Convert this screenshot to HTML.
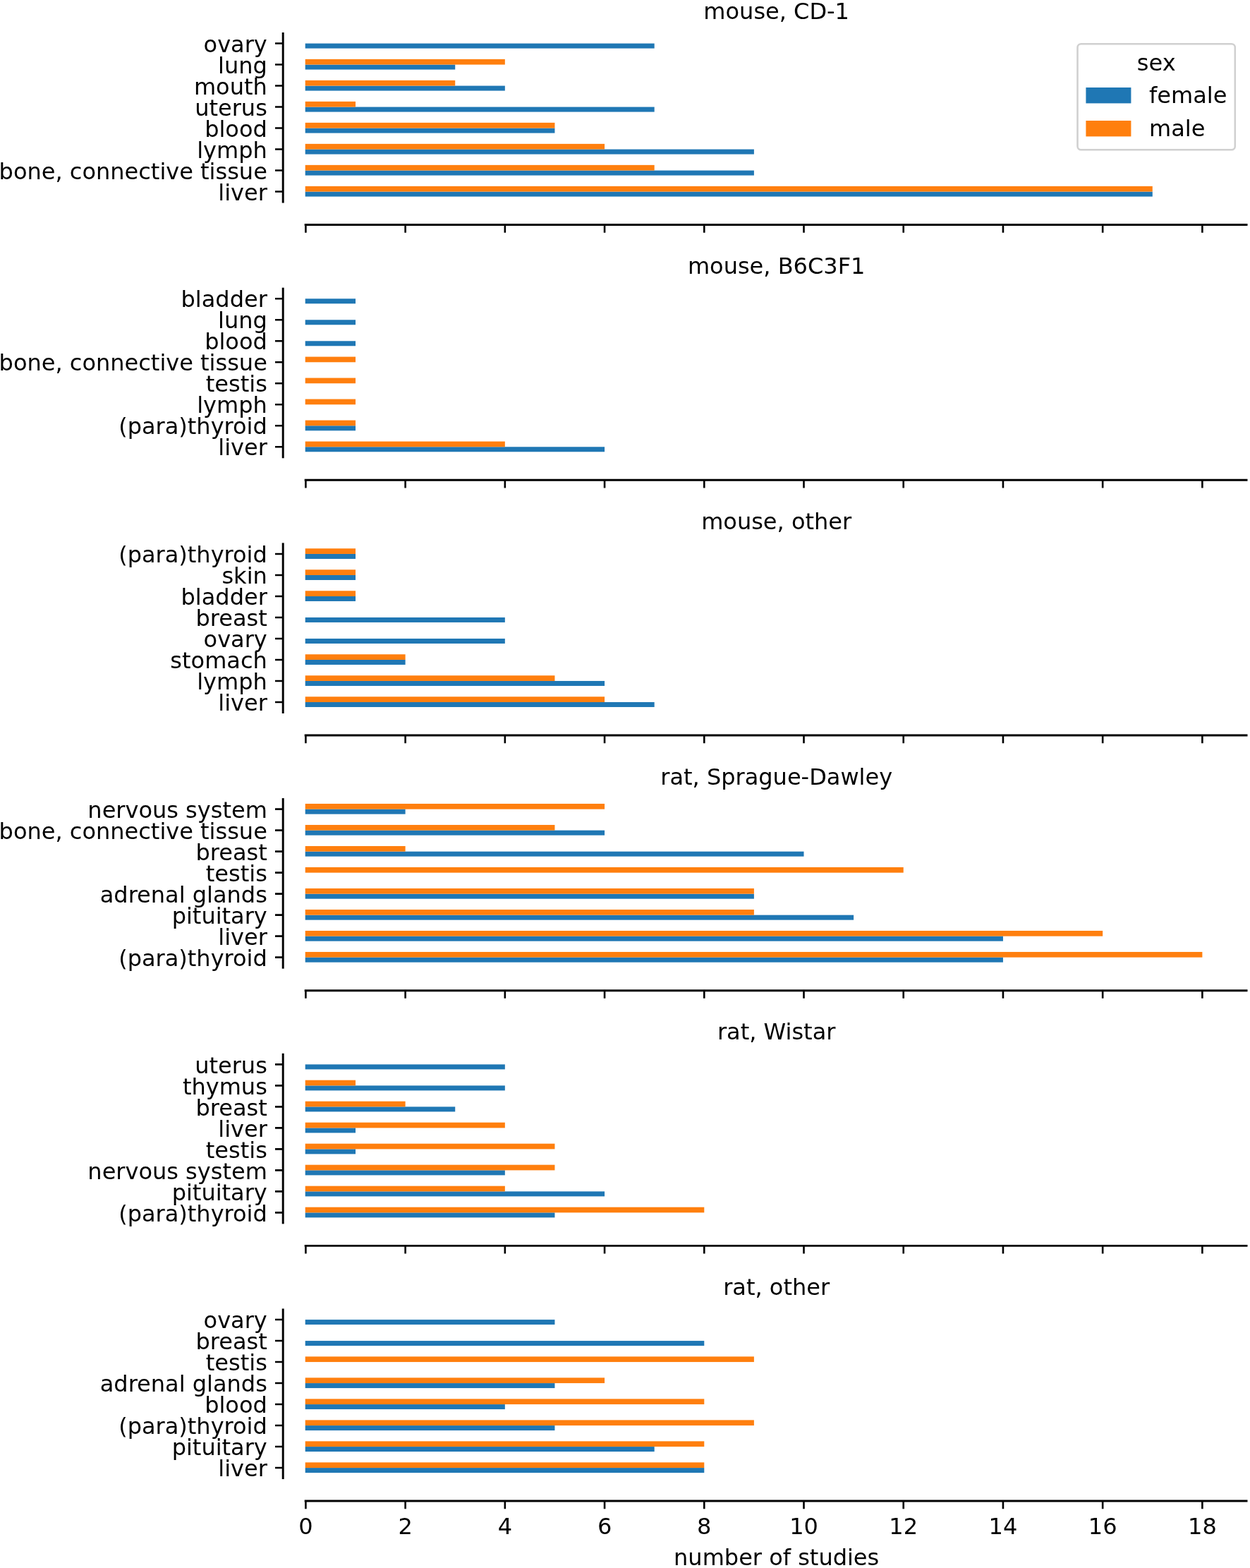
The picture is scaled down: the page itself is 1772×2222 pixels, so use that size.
<!DOCTYPE html>
<html><head><meta charset="utf-8"><title>number of studies</title>
<style>
html,body{margin:0;padding:0;background:#fff;}
svg{display:block;}
text{font-family:"DejaVu Sans","Liberation Sans",sans-serif;font-size:32px;fill:#000;}
.r{text-anchor:end}.c{text-anchor:middle}
</style></head><body>
<svg width="1772" height="2222" viewBox="0 0 1772 2222">
<rect x="0" y="0" width="1772" height="2222" fill="#fff"/>
<g>
<rect x="432.7" y="271.57" width="1201.07" height="7" fill="#1f77b4"/><rect x="432.7" y="263.87" width="1201.07" height="7.7" fill="#ff7f0e"/><rect x="432.7" y="241.57" width="636.19" height="7" fill="#1f77b4"/><rect x="432.7" y="233.87" width="494.97" height="7.7" fill="#ff7f0e"/><rect x="432.7" y="211.57" width="636.19" height="7" fill="#1f77b4"/><rect x="432.7" y="203.87" width="424.36" height="7.7" fill="#ff7f0e"/><rect x="432.7" y="181.57" width="353.75" height="7" fill="#1f77b4"/><rect x="432.7" y="173.87" width="353.75" height="7.7" fill="#ff7f0e"/><rect x="432.7" y="151.57" width="494.97" height="7" fill="#1f77b4"/><rect x="432.7" y="143.87" width="71.31" height="7.7" fill="#ff7f0e"/><rect x="432.7" y="121.57" width="283.14" height="7" fill="#1f77b4"/><rect x="432.7" y="113.87" width="212.53" height="7.7" fill="#ff7f0e"/><rect x="432.7" y="91.57" width="212.53" height="7" fill="#1f77b4"/><rect x="432.7" y="83.87" width="283.14" height="7.7" fill="#ff7f0e"/><rect x="432.7" y="61.57" width="494.97" height="7" fill="#1f77b4"/>
<path d="M401.2 45.97V287.57" stroke="#000" stroke-width="2.95" fill="none"/>
<path d="M431.7 318.57H1768.5" stroke="#000" stroke-width="2.95" fill="none"/>
<path d="M401.2 271.57H390M401.2 241.57H390M401.2 211.57H390M401.2 181.57H390M401.2 151.57H390M401.2 121.57H390M401.2 91.57H390M401.2 61.57H390" stroke="#000" stroke-width="2.6" fill="none"/>
<path d="M433.4 318.57V329.77M574.62 318.57V329.77M715.84 318.57V329.77M857.06 318.57V329.77M998.28 318.57V329.77M1139.5 318.57V329.77M1280.72 318.57V329.77M1421.94 318.57V329.77M1563.16 318.57V329.77M1704.38 318.57V329.77" stroke="#000" stroke-width="2.6" fill="none"/>
<text class="r" x="378.8" y="283.77">liver</text><text class="r" x="378.8" y="253.77">bone, connective tissue</text><text class="r" x="378.8" y="223.77">lymph</text><text class="r" x="378.8" y="193.77">blood</text><text class="r" x="378.8" y="163.77">uterus</text><text class="r" x="378.8" y="133.77">mouth</text><text class="r" x="378.8" y="103.77">lung</text><text class="r" x="378.8" y="73.77">ovary</text>
<text class="c" x="1100.66" y="26.57">mouse, CD-1</text>
</g>
<g>
<rect x="432.7" y="633.27" width="424.36" height="7" fill="#1f77b4"/><rect x="432.7" y="625.57" width="283.14" height="7.7" fill="#ff7f0e"/><rect x="432.7" y="603.27" width="71.31" height="7" fill="#1f77b4"/><rect x="432.7" y="595.57" width="71.31" height="7.7" fill="#ff7f0e"/><rect x="432.7" y="565.57" width="71.31" height="7.7" fill="#ff7f0e"/><rect x="432.7" y="535.57" width="71.31" height="7.7" fill="#ff7f0e"/><rect x="432.7" y="505.57" width="71.31" height="7.7" fill="#ff7f0e"/><rect x="432.7" y="483.27" width="71.31" height="7" fill="#1f77b4"/><rect x="432.7" y="453.27" width="71.31" height="7" fill="#1f77b4"/><rect x="432.7" y="423.27" width="71.31" height="7" fill="#1f77b4"/>
<path d="M401.2 407.67V649.27" stroke="#000" stroke-width="2.95" fill="none"/>
<path d="M431.7 680.27H1768.5" stroke="#000" stroke-width="2.95" fill="none"/>
<path d="M401.2 633.27H390M401.2 603.27H390M401.2 573.27H390M401.2 543.27H390M401.2 513.27H390M401.2 483.27H390M401.2 453.27H390M401.2 423.27H390" stroke="#000" stroke-width="2.6" fill="none"/>
<path d="M433.4 680.27V691.47M574.62 680.27V691.47M715.84 680.27V691.47M857.06 680.27V691.47M998.28 680.27V691.47M1139.5 680.27V691.47M1280.72 680.27V691.47M1421.94 680.27V691.47M1563.16 680.27V691.47M1704.38 680.27V691.47" stroke="#000" stroke-width="2.6" fill="none"/>
<text class="r" x="378.8" y="645.47">liver</text><text class="r" x="378.8" y="615.47">(para)thyroid</text><text class="r" x="378.8" y="585.47">lymph</text><text class="r" x="378.8" y="555.47">testis</text><text class="r" x="378.8" y="525.47">bone, connective tissue</text><text class="r" x="378.8" y="495.47">blood</text><text class="r" x="378.8" y="465.47">lung</text><text class="r" x="378.8" y="435.47">bladder</text>
<text class="c" x="1100.66" y="388.27">mouse, B6C3F1</text>
</g>
<g>
<rect x="432.7" y="994.97" width="494.97" height="7" fill="#1f77b4"/><rect x="432.7" y="987.27" width="424.36" height="7.7" fill="#ff7f0e"/><rect x="432.7" y="964.97" width="424.36" height="7" fill="#1f77b4"/><rect x="432.7" y="957.27" width="353.75" height="7.7" fill="#ff7f0e"/><rect x="432.7" y="934.97" width="141.92" height="7" fill="#1f77b4"/><rect x="432.7" y="927.27" width="141.92" height="7.7" fill="#ff7f0e"/><rect x="432.7" y="904.97" width="283.14" height="7" fill="#1f77b4"/><rect x="432.7" y="874.97" width="283.14" height="7" fill="#1f77b4"/><rect x="432.7" y="844.97" width="71.31" height="7" fill="#1f77b4"/><rect x="432.7" y="837.27" width="71.31" height="7.7" fill="#ff7f0e"/><rect x="432.7" y="814.97" width="71.31" height="7" fill="#1f77b4"/><rect x="432.7" y="807.27" width="71.31" height="7.7" fill="#ff7f0e"/><rect x="432.7" y="784.97" width="71.31" height="7" fill="#1f77b4"/><rect x="432.7" y="777.27" width="71.31" height="7.7" fill="#ff7f0e"/>
<path d="M401.2 769.37V1010.97" stroke="#000" stroke-width="2.95" fill="none"/>
<path d="M431.7 1041.97H1768.5" stroke="#000" stroke-width="2.95" fill="none"/>
<path d="M401.2 994.97H390M401.2 964.97H390M401.2 934.97H390M401.2 904.97H390M401.2 874.97H390M401.2 844.97H390M401.2 814.97H390M401.2 784.97H390" stroke="#000" stroke-width="2.6" fill="none"/>
<path d="M433.4 1041.97V1053.17M574.62 1041.97V1053.17M715.84 1041.97V1053.17M857.06 1041.97V1053.17M998.28 1041.97V1053.17M1139.5 1041.97V1053.17M1280.72 1041.97V1053.17M1421.94 1041.97V1053.17M1563.16 1041.97V1053.17M1704.38 1041.97V1053.17" stroke="#000" stroke-width="2.6" fill="none"/>
<text class="r" x="378.8" y="1007.17">liver</text><text class="r" x="378.8" y="977.17">lymph</text><text class="r" x="378.8" y="947.17">stomach</text><text class="r" x="378.8" y="917.17">ovary</text><text class="r" x="378.8" y="887.17">breast</text><text class="r" x="378.8" y="857.17">bladder</text><text class="r" x="378.8" y="827.17">skin</text><text class="r" x="378.8" y="797.17">(para)thyroid</text>
<text class="c" x="1100.66" y="749.97">mouse, other</text>
</g>
<g>
<rect x="432.7" y="1356.67" width="989.24" height="7" fill="#1f77b4"/><rect x="432.7" y="1348.97" width="1271.68" height="7.7" fill="#ff7f0e"/><rect x="432.7" y="1326.67" width="989.24" height="7" fill="#1f77b4"/><rect x="432.7" y="1318.97" width="1130.46" height="7.7" fill="#ff7f0e"/><rect x="432.7" y="1296.67" width="777.41" height="7" fill="#1f77b4"/><rect x="432.7" y="1288.97" width="636.19" height="7.7" fill="#ff7f0e"/><rect x="432.7" y="1266.67" width="636.19" height="7" fill="#1f77b4"/><rect x="432.7" y="1258.97" width="636.19" height="7.7" fill="#ff7f0e"/><rect x="432.7" y="1228.97" width="848.02" height="7.7" fill="#ff7f0e"/><rect x="432.7" y="1206.67" width="706.8" height="7" fill="#1f77b4"/><rect x="432.7" y="1198.97" width="141.92" height="7.7" fill="#ff7f0e"/><rect x="432.7" y="1176.67" width="424.36" height="7" fill="#1f77b4"/><rect x="432.7" y="1168.97" width="353.75" height="7.7" fill="#ff7f0e"/><rect x="432.7" y="1146.67" width="141.92" height="7" fill="#1f77b4"/><rect x="432.7" y="1138.97" width="424.36" height="7.7" fill="#ff7f0e"/>
<path d="M401.2 1131.07V1372.67" stroke="#000" stroke-width="2.95" fill="none"/>
<path d="M431.7 1403.67H1768.5" stroke="#000" stroke-width="2.95" fill="none"/>
<path d="M401.2 1356.67H390M401.2 1326.67H390M401.2 1296.67H390M401.2 1266.67H390M401.2 1236.67H390M401.2 1206.67H390M401.2 1176.67H390M401.2 1146.67H390" stroke="#000" stroke-width="2.6" fill="none"/>
<path d="M433.4 1403.67V1414.87M574.62 1403.67V1414.87M715.84 1403.67V1414.87M857.06 1403.67V1414.87M998.28 1403.67V1414.87M1139.5 1403.67V1414.87M1280.72 1403.67V1414.87M1421.94 1403.67V1414.87M1563.16 1403.67V1414.87M1704.38 1403.67V1414.87" stroke="#000" stroke-width="2.6" fill="none"/>
<text class="r" x="378.8" y="1368.87">(para)thyroid</text><text class="r" x="378.8" y="1338.87">liver</text><text class="r" x="378.8" y="1308.87">pituitary</text><text class="r" x="378.8" y="1278.87">adrenal glands</text><text class="r" x="378.8" y="1248.87">testis</text><text class="r" x="378.8" y="1218.87">breast</text><text class="r" x="378.8" y="1188.87">bone, connective tissue</text><text class="r" x="378.8" y="1158.87">nervous system</text>
<text class="c" x="1100.66" y="1111.67">rat, Sprague-Dawley</text>
</g>
<g>
<rect x="432.7" y="1718.37" width="353.75" height="7" fill="#1f77b4"/><rect x="432.7" y="1710.67" width="565.58" height="7.7" fill="#ff7f0e"/><rect x="432.7" y="1688.37" width="424.36" height="7" fill="#1f77b4"/><rect x="432.7" y="1680.67" width="283.14" height="7.7" fill="#ff7f0e"/><rect x="432.7" y="1658.37" width="283.14" height="7" fill="#1f77b4"/><rect x="432.7" y="1650.67" width="353.75" height="7.7" fill="#ff7f0e"/><rect x="432.7" y="1628.37" width="71.31" height="7" fill="#1f77b4"/><rect x="432.7" y="1620.67" width="353.75" height="7.7" fill="#ff7f0e"/><rect x="432.7" y="1598.37" width="71.31" height="7" fill="#1f77b4"/><rect x="432.7" y="1590.67" width="283.14" height="7.7" fill="#ff7f0e"/><rect x="432.7" y="1568.37" width="212.53" height="7" fill="#1f77b4"/><rect x="432.7" y="1560.67" width="141.92" height="7.7" fill="#ff7f0e"/><rect x="432.7" y="1538.37" width="283.14" height="7" fill="#1f77b4"/><rect x="432.7" y="1530.67" width="71.31" height="7.7" fill="#ff7f0e"/><rect x="432.7" y="1508.37" width="283.14" height="7" fill="#1f77b4"/>
<path d="M401.2 1492.77V1734.37" stroke="#000" stroke-width="2.95" fill="none"/>
<path d="M431.7 1765.37H1768.5" stroke="#000" stroke-width="2.95" fill="none"/>
<path d="M401.2 1718.37H390M401.2 1688.37H390M401.2 1658.37H390M401.2 1628.37H390M401.2 1598.37H390M401.2 1568.37H390M401.2 1538.37H390M401.2 1508.37H390" stroke="#000" stroke-width="2.6" fill="none"/>
<path d="M433.4 1765.37V1776.57M574.62 1765.37V1776.57M715.84 1765.37V1776.57M857.06 1765.37V1776.57M998.28 1765.37V1776.57M1139.5 1765.37V1776.57M1280.72 1765.37V1776.57M1421.94 1765.37V1776.57M1563.16 1765.37V1776.57M1704.38 1765.37V1776.57" stroke="#000" stroke-width="2.6" fill="none"/>
<text class="r" x="378.8" y="1730.57">(para)thyroid</text><text class="r" x="378.8" y="1700.57">pituitary</text><text class="r" x="378.8" y="1670.57">nervous system</text><text class="r" x="378.8" y="1640.57">testis</text><text class="r" x="378.8" y="1610.57">liver</text><text class="r" x="378.8" y="1580.57">breast</text><text class="r" x="378.8" y="1550.57">thymus</text><text class="r" x="378.8" y="1520.57">uterus</text>
<text class="c" x="1100.66" y="1473.37">rat, Wistar</text>
</g>
<g>
<rect x="432.7" y="2080.07" width="565.58" height="7" fill="#1f77b4"/><rect x="432.7" y="2072.37" width="565.58" height="7.7" fill="#ff7f0e"/><rect x="432.7" y="2050.07" width="494.97" height="7" fill="#1f77b4"/><rect x="432.7" y="2042.37" width="565.58" height="7.7" fill="#ff7f0e"/><rect x="432.7" y="2020.07" width="353.75" height="7" fill="#1f77b4"/><rect x="432.7" y="2012.37" width="636.19" height="7.7" fill="#ff7f0e"/><rect x="432.7" y="1990.07" width="283.14" height="7" fill="#1f77b4"/><rect x="432.7" y="1982.37" width="565.58" height="7.7" fill="#ff7f0e"/><rect x="432.7" y="1960.07" width="353.75" height="7" fill="#1f77b4"/><rect x="432.7" y="1952.37" width="424.36" height="7.7" fill="#ff7f0e"/><rect x="432.7" y="1922.37" width="636.19" height="7.7" fill="#ff7f0e"/><rect x="432.7" y="1900.07" width="565.58" height="7" fill="#1f77b4"/><rect x="432.7" y="1870.07" width="353.75" height="7" fill="#1f77b4"/>
<path d="M401.2 1854.47V2096.07" stroke="#000" stroke-width="2.95" fill="none"/>
<path d="M431.7 2127.07H1768.5" stroke="#000" stroke-width="2.95" fill="none"/>
<path d="M401.2 2080.07H390M401.2 2050.07H390M401.2 2020.07H390M401.2 1990.07H390M401.2 1960.07H390M401.2 1930.07H390M401.2 1900.07H390M401.2 1870.07H390" stroke="#000" stroke-width="2.6" fill="none"/>
<path d="M433.4 2127.07V2138.27M574.62 2127.07V2138.27M715.84 2127.07V2138.27M857.06 2127.07V2138.27M998.28 2127.07V2138.27M1139.5 2127.07V2138.27M1280.72 2127.07V2138.27M1421.94 2127.07V2138.27M1563.16 2127.07V2138.27M1704.38 2127.07V2138.27" stroke="#000" stroke-width="2.6" fill="none"/>
<text class="r" x="378.8" y="2092.27">liver</text><text class="r" x="378.8" y="2062.27">pituitary</text><text class="r" x="378.8" y="2032.27">(para)thyroid</text><text class="r" x="378.8" y="2002.27">blood</text><text class="r" x="378.8" y="1972.27">adrenal glands</text><text class="r" x="378.8" y="1942.27">testis</text><text class="r" x="378.8" y="1912.27">breast</text><text class="r" x="378.8" y="1882.27">ovary</text>
<text class="c" x="1100.66" y="1835.07">rat, other</text>
<text class="c" x="433.4" y="2173.57">0</text><text class="c" x="574.62" y="2173.57">2</text><text class="c" x="715.84" y="2173.57">4</text><text class="c" x="857.06" y="2173.57">6</text><text class="c" x="998.28" y="2173.57">8</text><text class="c" x="1139.5" y="2173.57">10</text><text class="c" x="1280.72" y="2173.57">12</text><text class="c" x="1421.94" y="2173.57">14</text><text class="c" x="1563.16" y="2173.57">16</text><text class="c" x="1704.38" y="2173.57">18</text>
<text class="c" x="1100.66" y="2217.57">number of studies</text>
</g>
<g>
<rect x="1527.5" y="62.2" width="223.3" height="150.1" rx="5" ry="5" fill="#fff" stroke="#d0d0d0" stroke-width="2.56"/>
<text class="c" x="1639.2" y="99.5">sex</text>
<rect x="1539.4" y="124" width="64" height="22.4" fill="#1f77b4"/>
<text x="1629" y="146.3">female</text>
<rect x="1539.4" y="171" width="64" height="22.4" fill="#ff7f0e"/>
<text x="1629" y="193.3">male</text>
</g>
</svg>
</body></html>
